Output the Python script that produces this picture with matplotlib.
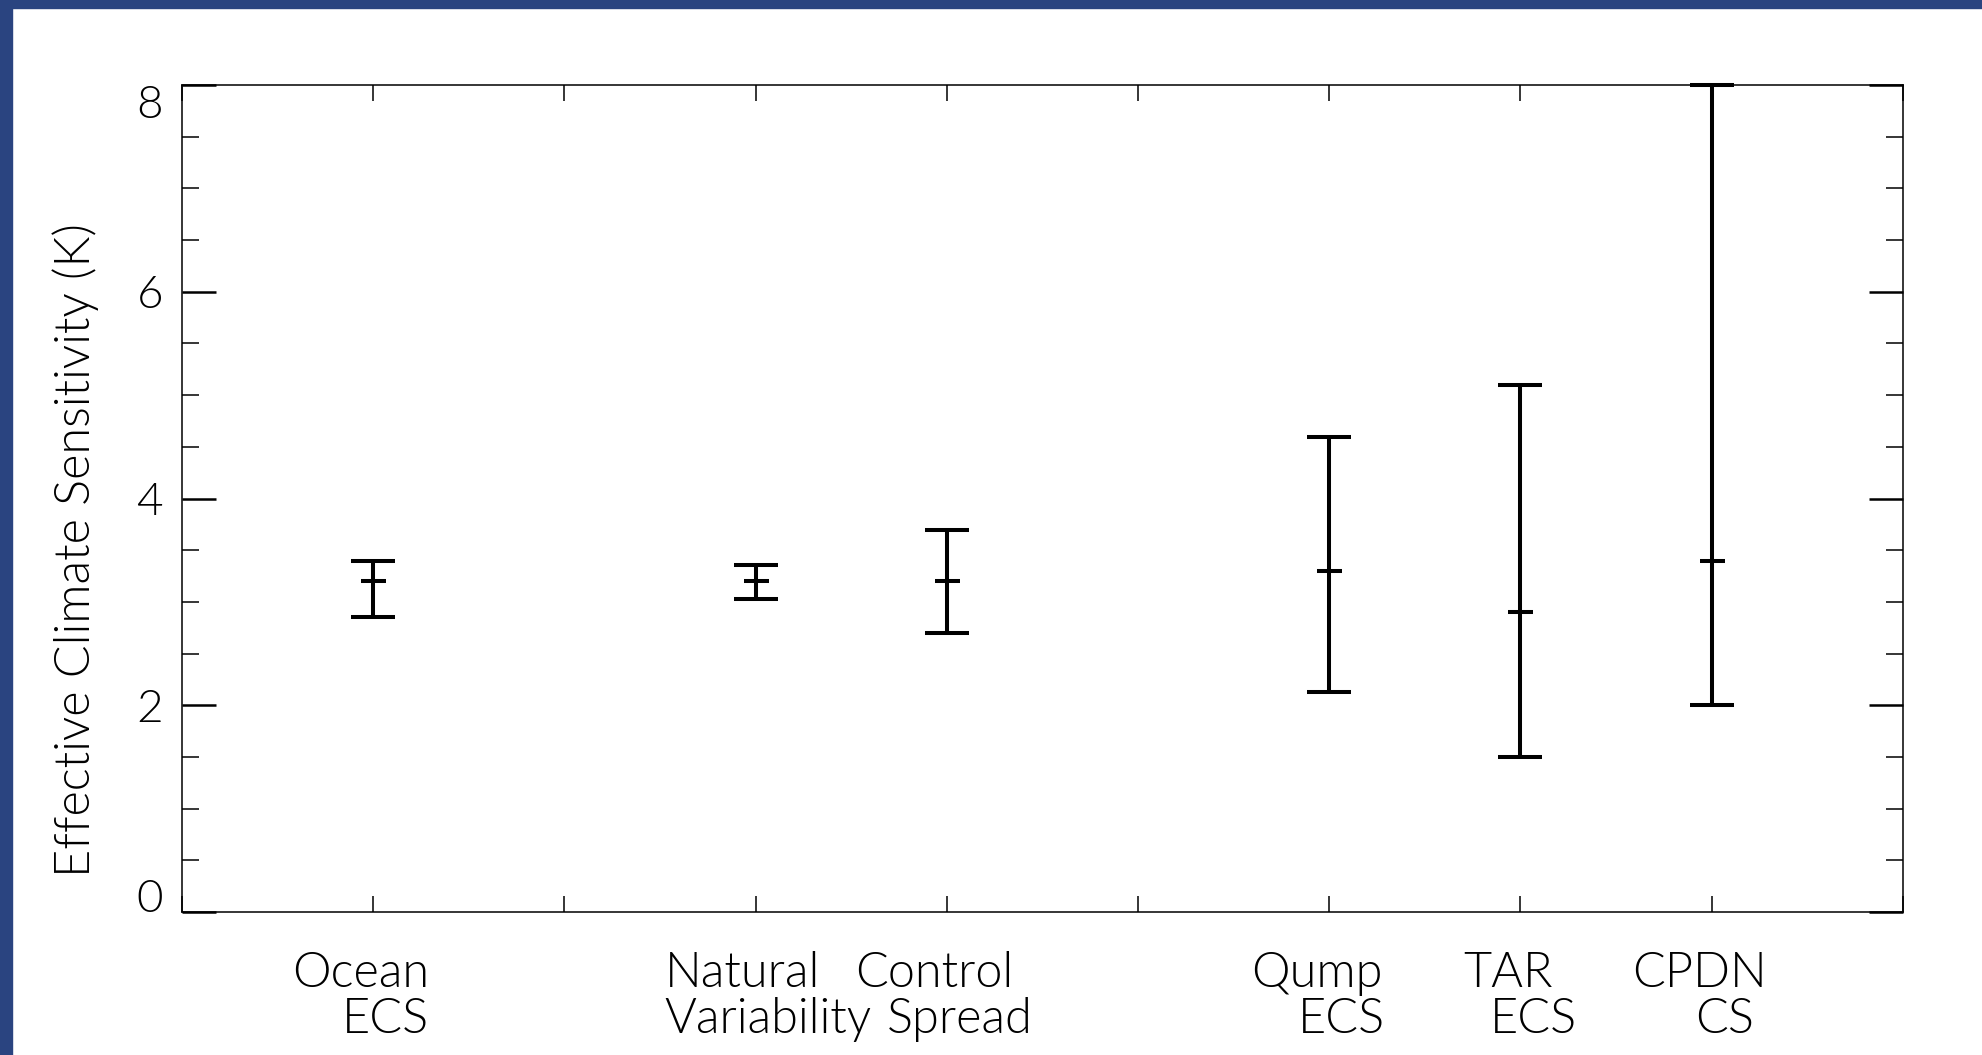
import matplotlib
matplotlib.use("Agg")
import matplotlib.pyplot as plt
from matplotlib.patches import Rectangle
from matplotlib.ticker import MultipleLocator

# Data
positions = [1, 3, 4, 6, 7, 8]
label_top = ["Ocean", "Natural", "Control", "Qump", "TAR", "CPDN"]
label_bottom = ["ECS", "Variability", "Spread", "ECS", "ECS", "CS"]
best = [3.2, 3.2, 3.2, 3.3, 2.9, 3.4]
low = [2.85, 3.03, 2.7, 2.13, 1.5, 2.0]
high = [3.4, 3.36, 3.7, 4.6, 5.1, 8.0]
yticks = [0, 2, 4, 6, 8]

plt.rcParams['font.family'] = ['Lato', 'DejaVu Sans']
plt.rcParams['font.weight'] = 300

fig = plt.figure(figsize=(19.82, 10.55), dpi=100)
ax = fig.add_axes([0.0918, 0.1355, 0.8683, 0.7839])

# blue frame on top and left
fig.patches.append(Rectangle((0, 0), 12 / 1982, 1, transform=fig.transFigure,
                             color="#2a4480", zorder=0))
fig.patches.append(Rectangle((0, 1 - 8 / 1055), 1, 8 / 1055, transform=fig.transFigure,
                             color="#2a4480", zorder=0))

err_lo = [b - l for b, l in zip(best, low)]
err_hi = [h - b for h, b in zip(high, best)]
ax.errorbar(positions, best, yerr=[err_lo, err_hi], fmt='none', ecolor='black',
            elinewidth=2.9, capsize=15.5, capthick=2.9, clip_on=False, zorder=3)
ax.plot(positions, best, linestyle='none', marker='_', markersize=18,
        markeredgewidth=2.9, color='black', clip_on=False, zorder=4)

ax.set_xlim(0, 9)
ax.set_ylim(0, 8)
ax.xaxis.set_major_locator(MultipleLocator(1))
ax.set_yticks(yticks)
ax.yaxis.set_minor_locator(MultipleLocator(0.5))
ax.set_xticklabels([])

for s in ax.spines.values():
    s.set_linewidth(1.1)

ax.tick_params(axis='x', which='major', direction='in', length=11.5, width=1.1,
               top=True, bottom=True)
ax.tick_params(axis='y', which='major', direction='in', length=24.5, width=1.8,
               left=True, right=True, labelsize=33, pad=13.5, labelcolor='black')
ax.tick_params(axis='y', which='minor', direction='in', length=12, width=1.1,
               left=True, right=True)
ax.set_yticklabels([str(v) for v in yticks])
ylabels = ax.get_yticklabels()
ylabels[0].set_verticalalignment('baseline')
ylabels[-1].set_verticalalignment('top')

trans = ax.get_xaxis_transform()
for x, t1, t2 in zip(positions, label_top, label_bottom):
    ax.text(x - 0.066, -0.0907, t1, transform=trans, ha='center', va='baseline',
            fontsize=35, color='black')
    ax.text(x + 0.066, -0.1463, t2, transform=trans, ha='center', va='baseline',
            fontsize=35, color='black')

fig.text(0.0383, 0.4787, "Effective Climate Sensitivity (K)", rotation=90,
         ha='center', va='center', fontsize=35, color='black')

fig.savefig("out.png", dpi=100)
